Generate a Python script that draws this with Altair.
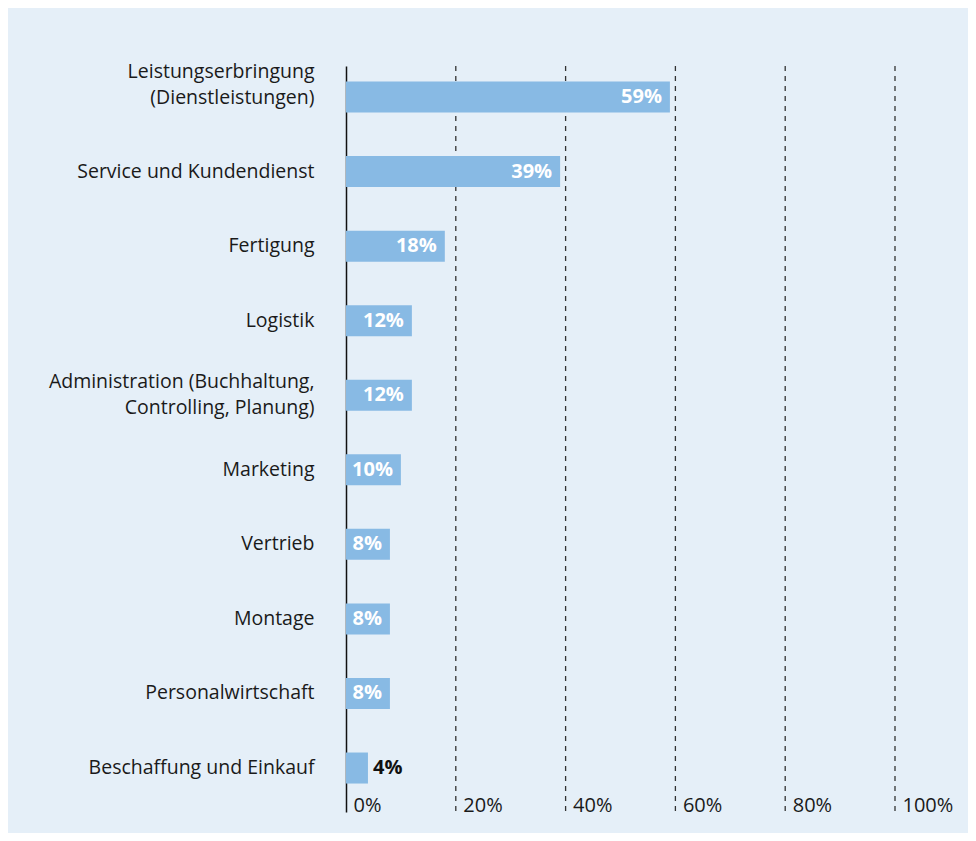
import altair as alt
import pandas as pd

categories = [
    "Leistungserbringung|(Dienstleistungen)",
    "Service und Kundendienst",
    "Fertigung",
    "Logistik",
    "Administration (Buchhaltung,|Controlling, Planung)",
    "Marketing",
    "Vertrieb",
    "Montage",
    "Personalwirtschaft",
    "Beschaffung und Einkauf",
]
values = [59, 39, 18, 12, 12, 10, 8, 8, 8, 4]
ticks = [0, 20, 40, 60, 80, 100]

df = pd.DataFrame({"cat": categories, "val": values})
df["lbl"] = df["val"].astype(str) + "%"
df["inside"] = df["val"] >= 6
tick_df = pd.DataFrame({"t": ticks})

FONT = "Open Sans"
BG = "#e5eff8"
BAR = "#88bae4"

x_scale = alt.Scale(domain=[0, 100], nice=False, zero=True)
y_scale = alt.Scale(domain=categories, paddingInner=0.584, paddingOuter=0.295, align=0.353)

x_axis = alt.Axis(
    values=ticks, format="d", labelExpr="datum.value + '%'",
    title=None, grid=False, domain=False, ticks=False,
    labelAlign="left", labelBaseline="middle", labelPadding=-7, labelOffset=7,
    labelFont=FONT, labelFontSize=20, labelColor="#1a1a1a",
)
y_axis = alt.Axis(
    title=None, ticks=False, domain=True, domainColor="#111111", domainWidth=1.5,
    labelExpr="split(datum.label, '|')", labelAlign="right", labelPadding=32,
    labelFont=FONT, labelFontSize=19.5, labelColor="#1a1a1a", labelLineHeight=26,
    labelLimit=400,
    labelOffset={
        "condition": [
            {"test": "datum.value == '%s'" % categories[0], "value": -25},
            {"test": "datum.value == '%s'" % categories[4], "value": -13},
        ],
        "value": 0,
    },
)

grid = alt.Chart(tick_df).transform_filter("datum.t > 0").mark_rule(
    color="#333333", strokeDash=[5, 5], strokeWidth=1.3
).encode(x=alt.X("t:Q", scale=x_scale, axis=x_axis))

bars = alt.Chart(df).mark_bar(color=BAR, cornerRadius=0).encode(
    x=alt.X("val:Q", scale=x_scale, axis=x_axis),
    y=alt.Y("cat:N", scale=y_scale, axis=y_axis, sort=categories),
)

text_in = alt.Chart(df).transform_filter("datum.inside").mark_text(
    align="right", baseline="middle", dx=-8, font=FONT, fontSize=20,
    fontWeight="bold", color="white"
).encode(
    x=alt.X("val:Q", scale=x_scale), y=alt.Y("cat:N", scale=y_scale, sort=categories),
    text="lbl:N",
)
text_out = alt.Chart(df).transform_filter("!datum.inside").mark_text(
    align="left", baseline="middle", dx=5, font=FONT, fontSize=20,
    fontWeight="bold", color="#111111"
).encode(
    x=alt.X("val:Q", scale=x_scale), y=alt.Y("cat:N", scale=y_scale, sort=categories),
    text="lbl:N",
)

chart = alt.layer(grid, bars, text_in, text_out).properties(
    width=549, height=746,
    autosize=alt.AutoSizeParams(type="none"),
    padding={"left": 338, "top": 58, "right": 73, "bottom": 21},
    background=BG,
).configure_view(stroke=None)

chart.save("out.html", embed_options={"renderer": "svg", "actions": False})
